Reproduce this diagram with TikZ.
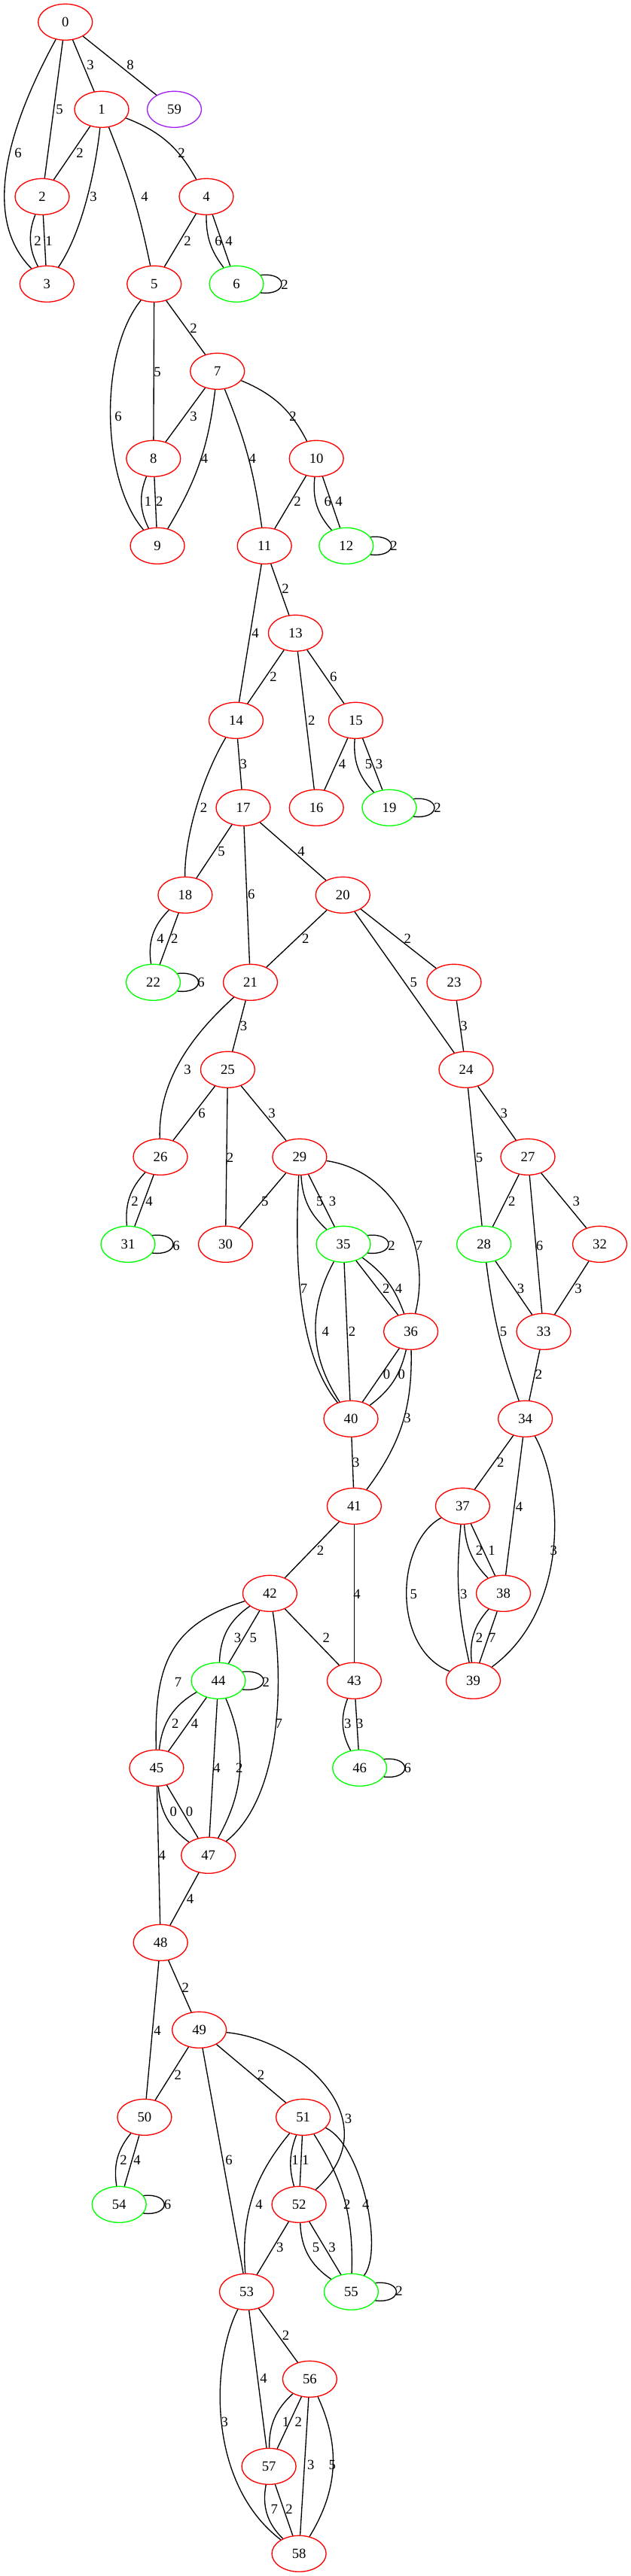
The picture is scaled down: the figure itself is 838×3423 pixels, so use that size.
\documentclass[tikz,border=0pt]{standalone}
\usepackage{fontspec}
\setmainfont{Liberation Serif}
\usetikzlibrary{shapes.geometric}
\definecolor{gvred}{HTML}{FF0000}
\definecolor{gvgreen}{HTML}{00FF00}
\definecolor{gvpurple}{HTML}{A020F0}
\begin{document}
\begin{tikzpicture}[x=0.75pt,y=-0.75pt,
  every node/.style={font=\fontsize{14pt}{16pt}\selectfont},
  vtx/.style={ellipse, draw=gvred, line width=1pt, minimum width=54pt, minimum height=36pt, inner sep=0pt},
  vg/.style={vtx, draw=gvgreen},
  vp/.style={vtx, draw=gvpurple},
  edg/.style={draw=black, line width=1pt},
  pair/.style={bend right=24},
  lbl/.style={inner sep=0pt}]
\useasboundingbox (0,0) rectangle (838,3423);
% nodes
\node[vtx] (n0) at (86.7,29.3) {0};
\node[vtx] (n1) at (135,145.3) {1};
\node[vp] (n59) at (231.5,145.3) {59};
\node[vtx] (n2) at (56,261.3) {2};
\node[vtx] (n4) at (274,261.3) {4};
\node[vtx] (n3) at (62.3,377.3) {3};
\node[vtx] (n5) at (204.7,377.3) {5};
\node[vg] (n6) at (314,377.3) {6};
\node[vtx] (n7) at (288.7,493.3) {7};
\node[vtx] (n8) at (203.8,609.3) {8};
\node[vtx] (n10) at (420.2,609.3) {10};
\node[vtx] (n9) at (209.1,725.3) {9};
\node[vtx] (n11) at (351.2,725.3) {11};
\node[vg] (n12) at (459.8,725.3) {12};
\node[vtx] (n13) at (392.4,841.3) {13};
\node[vtx] (n14) at (313.5,957.3) {14};
\node[vtx] (n15) at (472.4,957.3) {15};
\node[vtx] (n17) at (323,1073.3) {17};
\node[vtx] (n16) at (420.2,1073.3) {16};
\node[vg] (n19) at (517,1073.3) {19};
\node[vtx] (n18) at (245.9,1189.3) {18};
\node[vtx] (n20) at (455.3,1189.3) {20};
\node[vg] (n22) at (203.5,1305.3) {22};
\node[vtx] (n21) at (332.5,1305.3) {21};
\node[vtx] (n23) at (603,1305.3) {23};
\node[vtx] (n25) at (302.4,1421.3) {25};
\node[vtx] (n24) at (619,1421.3) {24};
\node[vtx] (n26) at (213,1537.3) {26};
\node[vtx] (n29) at (397.9,1537.3) {29};
\node[vtx] (n27) at (701,1537.3) {27};
\node[vg] (n31) at (170,1653.3) {31};
\node[vtx] (n30) at (299.5,1653.3) {30};
\node[vg] (n35) at (456,1653.3) {35};
\node[vg] (n28) at (642.6,1653.3) {28};
\node[vtx] (n32) at (796.5,1653.3) {32};
\node[vtx] (n36) at (545.6,1769.3) {36};
\node[vtx] (n33) at (722,1769.3) {33};
\node[vtx] (n40) at (466,1885.3) {40};
\node[vtx] (n34) at (697.6,1885.3) {34};
\node[vtx] (n41) at (470.4,2001.3) {41};
\node[vtx] (n37) at (614.4,2001.3) {37};
\node[vtx] (n42) at (358.4,2117.3) {42};
\node[vtx] (n38) at (668.5,2117.3) {38};
\node[vg] (n44) at (290,2233.3) {44};
\node[vtx] (n43) at (470.4,2233.3) {43};
\node[vtx] (n39) at (628.5,2233.3) {39};
\node[vtx] (n45) at (207.9,2349.3) {45};
\node[vg] (n46) at (477.7,2349.3) {46};
\node[vtx] (n47) at (276.7,2465.3) {47};
\node[vtx] (n48) at (213.2,2581.3) {48};
\node[vtx] (n49) at (264.6,2697.3) {49};
\node[vtx] (n50) at (191.9,2813.3) {50};
\node[vtx] (n51) at (402.6,2813.3) {51};
\node[vg] (n54) at (158.2,2929.3) {54};
\node[vtx] (n52) at (397.1,2929.3) {52};
\node[vtx] (n53) at (327.5,3045.3) {53};
\node[vg] (n55) at (466.4,3045.3) {55};
\node[vtx] (n56) at (411.4,3161.3) {56};
\node[vtx] (n57) at (357.1,3277.3) {57};
\node[vtx] (n58) at (397.1,3393.3) {58};
% loops
\foreach \n in {n6,n12,n19,n22,n31,n35,n44,n46,n54,n55}
  \draw[edg] (\n.20) .. controls +(37,-4) and +(37,4) .. (\n.-20);
% edges
\draw[edg] (n0) .. controls (10,170) and (-25,290) .. (n3);
\draw[edg] (n0) -- (n2);
\draw[edg] (n0) -- (n1);
\draw[edg] (n0) -- (n59);
\draw[edg] (n1) -- (n2);
\draw[edg] (n1) .. controls (130,200) and (115,300) .. (n3);
\draw[edg] (n1) to[bend left=5] (n5);
\draw[edg] (n1) to[bend left=20] (n4);
\draw[edg] (n2) to[pair] (n3);
\draw[edg] (n2) -- (n3);
\draw[edg] (n4) -- (n5);
\draw[edg] (n4) to[bend right=19] (n6);
\draw[edg] (n4) -- (n6);
\draw[edg] (n5) .. controls (130,470) and (135,640) .. (n9);
\draw[edg] (n5) -- (n8);
\draw[edg] (n5) -- (n7);
\draw[edg] (n7) -- (n8);
\draw[edg] (n7) to[bend left=12] (n9);
\draw[edg] (n7) to[bend left=7] (n11);
\draw[edg] (n7) to[bend left=20] (n10);
\draw[edg] (n8) to[pair] (n9);
\draw[edg] (n8) -- (n9);
\draw[edg] (n10) -- (n11);
\draw[edg] (n10) to[pair] (n12);
\draw[edg] (n10) -- (n12);
\draw[edg] (n11) -- (n13);
\draw[edg] (n11) -- (n14);
\draw[edg] (n13) -- (n14);
\draw[edg] (n13) -- (n16);
\draw[edg] (n13) -- (n15);
\draw[edg] (n14) .. controls (270,1030) and (245,1110) .. (n18);
\draw[edg] (n14) -- (n17);
\draw[edg] (n15) -- (n16);
\draw[edg] (n15) to[pair] (n19);
\draw[edg] (n15) -- (n19);
\draw[edg] (n17) -- (n18);
\draw[edg] (n17) -- (n21);
\draw[edg] (n17) -- (n20);
\draw[edg] (n18) to[bend right=27] (n22);
\draw[edg] (n18) -- (n22);
\draw[edg] (n20) -- (n21);
\draw[edg] (n20) -- (n24);
\draw[edg] (n20) -- (n23);
\draw[edg] (n23) -- (n24);
\draw[edg] (n21) -- (n25);
\draw[edg] (n21) .. controls (250,1380) and (210,1440) .. (n26);
\draw[edg] (n25) -- (n26);
\draw[edg] (n25) -- (n30);
\draw[edg] (n25) -- (n29);
\draw[edg] (n24) -- (n28);
\draw[edg] (n24) -- (n27);
\draw[edg] (n26) to[pair] (n31);
\draw[edg] (n26) -- (n31);
\draw[edg] (n29) -- (n30);
\draw[edg] (n29) .. controls (392,1660) and (392,1795) .. (n40);
\draw[edg] (n29) to[bend right=22] (n35);
\draw[edg] (n29) -- (n35);
\draw[edg] (n29) .. controls (520,1555) and (575,1650) .. (n36);
\draw[edg] (n27) -- (n28);
\draw[edg] (n27) -- (n33);
\draw[edg] (n27) -- (n32);
\draw[edg] (n35) to[bend right=31] (n40);
\draw[edg] (n35) -- (n40);
\draw[edg] (n35) -- (n36);
\draw[edg] (n35) to[bend left=17] (n36);
\draw[edg] (n28) to[bend right=6] (n34);
\draw[edg] (n28) -- (n33);
\draw[edg] (n32) -- (n33);
\draw[edg] (n36) -- (n40);
\draw[edg] (n36) to[bend left=20] (n40);
\draw[edg] (n36) to[bend left=19] (n41);
\draw[edg] (n33) -- (n34);
\draw[edg] (n40) -- (n41);
\draw[edg] (n34) -- (n37);
\draw[edg] (n34) -- (n38);
\draw[edg] (n34) .. controls (750,1980) and (755,2140) .. (n39);
\draw[edg] (n41) -- (n42);
\draw[edg] (n41) -- (n43);
\draw[edg] (n37) .. controls (525,2050) and (520,2190) .. (n39);
\draw[edg] (n37) to[bend right=9] (n39);
\draw[edg] (n37) to[bend right=20] (n38);
\draw[edg] (n37) -- (n38);
\draw[edg] (n38) to[pair] (n39);
\draw[edg] (n38) -- (n39);
\draw[edg] (n42) .. controls (220,2160) and (205,2220) .. (n45);
\draw[edg] (n42) to[bend right=27] (n44);
\draw[edg] (n42) -- (n44);
\draw[edg] (n42) .. controls (378,2240) and (372,2390) .. (n47);
\draw[edg] (n42) -- (n43);
\draw[edg] (n43) to[pair] (n46);
\draw[edg] (n43) -- (n46);
\draw[edg] (n44) to[bend right=27] (n45);
\draw[edg] (n44) -- (n45);
\draw[edg] (n44) -- (n47);
\draw[edg] (n44) to[bend left=26] (n47);
\draw[edg] (n45) to[bend right=25] (n47);
\draw[edg] (n45) -- (n47);
\draw[edg] (n45) -- (n48);
\draw[edg] (n47) -- (n48);
\draw[edg] (n48) -- (n49);
\draw[edg] (n48) -- (n50);
\draw[edg] (n49) -- (n50);
\draw[edg] (n49) -- (n53);
\draw[edg] (n49) -- (n51);
\draw[edg] (n49) .. controls (400,2710) and (520,2820) .. (n52);
\draw[edg] (n50) to[pair] (n54);
\draw[edg] (n50) -- (n54);
\draw[edg] (n51) to[bend right=22] (n53);
\draw[edg] (n51) to[bend right=18] (n52);
\draw[edg] (n51) -- (n52);
\draw[edg] (n51) to[bend left=17] (n55);
\draw[edg] (n51) .. controls (480,2850) and (510,2990) .. (n55);
\draw[edg] (n52) -- (n53);
\draw[edg] (n52) to[bend right=27] (n55);
\draw[edg] (n52) -- (n55);
\draw[edg] (n53) -- (n56);
\draw[edg] (n53) -- (n57);
\draw[edg] (n53) .. controls (280,3140) and (275,3300) .. (n58);
\draw[edg] (n56) to[pair] (n57);
\draw[edg] (n56) -- (n57);
\draw[edg] (n56) -- (n58);
\draw[edg] (n56) to[bend left=28] (n58);
\draw[edg] (n57) to[bend right=28] (n58);
\draw[edg] (n57) -- (n58);
% edge labels
\node[lbl] (a1) at (120,86.6) {3};
\node[lbl] (a2) at (173,86.6) {8};
\node[lbl] (a3) at (79,145) {5};
\node[lbl] (a4) at (24,203) {6};
\node[lbl] (a5) at (106,203) {2};
\node[lbl] (a6) at (241,203) {2};
\node[lbl] (a7) at (124,261) {3};
\node[lbl] (a8) at (192,261) {4};
\node[lbl] (a9) at (50,320) {2};
\node[lbl] (a10) at (65,320) {1};
\node[lbl] (a11) at (249,320) {2};
\node[lbl] (a12) at (290,320) {6};
\node[lbl] (a13) at (304,320) {4};
\node[lbl] (a14) at (378,378) {2};
\node[lbl] (a15) at (257,436) {2};
\node[lbl] (a16) at (209,494) {5};
\node[lbl] (a17) at (157,553) {6};
\node[lbl] (a18) at (257,553) {3};
\node[lbl] (a19) at (389,553) {2};
\node[lbl] (a20) at (271.6,609) {4};
\node[lbl] (a21) at (335.2,609) {4};
\node[lbl] (a22) at (196.6,666.5) {1};
\node[lbl] (a23) at (211.8,666.5) {2};
\node[lbl] (a24) at (395,666.5) {2};
\node[lbl] (a25) at (435.4,666.5) {6};
\node[lbl] (a26) at (450,666.5) {4};
\node[lbl] (a27) at (523,725) {2};
\node[lbl] (a28) at (379,782) {2};
\node[lbl] (a29) at (339,841) {4};
\node[lbl] (a30) at (363,899) {2};
\node[lbl] (a31) at (442.7,899) {6};
\node[lbl] (a32) at (413.7,957) {2};
\node[lbl] (a33) at (323.4,1015) {3};
\node[lbl] (a34) at (454.5,1015) {4};
\node[lbl] (a35) at (489.5,1015) {5};
\node[lbl] (a36) at (503.6,1015) {3};
\node[lbl] (a37) at (581,1073.4) {2};
\node[lbl] (a38) at (270.5,1073.4) {2};
\node[lbl] (a39) at (294,1131) {5};
\node[lbl] (a40) at (400,1131) {4};
\node[lbl] (a41) at (333.9,1188.3) {6};
\node[lbl] (a42) at (213,1247) {4};
\node[lbl] (a43) at (231.8,1247) {2};
\node[lbl] (a44) at (405.9,1247) {2};
\node[lbl] (a45) at (541.4,1247) {2};
\node[lbl] (a46) at (267,1305.8) {6};
\node[lbl] (a47) at (549.4,1305.8) {5};
\node[lbl] (a48) at (323.5,1363) {3};
\node[lbl] (a49) at (616,1363) {3};
\node[lbl] (a50) at (249,1421.4) {3};
\node[lbl] (a51) at (268,1479.4) {6};
\node[lbl] (a52) at (361,1479.4) {3};
\node[lbl] (a53) at (669.4,1479.4) {3};
\node[lbl] (a54) at (305.6,1538.5) {2};
\node[lbl] (a55) at (636.5,1538.5) {5};
\node[lbl] (a56) at (179,1596.5) {2};
\node[lbl] (a57) at (198,1596.5) {4};
\node[lbl] (a58) at (351.8,1596.5) {5};
\node[lbl] (a59) at (424.7,1596.5) {5};
\node[lbl] (a60) at (441.6,1596.5) {3};
\node[lbl] (a61) at (679.8,1596.5) {2};
\node[lbl] (a62) at (765.4,1596.5) {3};
\node[lbl] (a63) at (234,1654.9) {6};
\node[lbl] (a64) at (520,1654.9) {2};
\node[lbl] (a65) at (556.5,1654.9) {7};
\node[lbl] (a66) at (716.5,1654.9) {6};
\node[lbl] (a67) at (403.5,1712.5) {7};
\node[lbl] (a68) at (512.7,1712.5) {2};
\node[lbl] (a69) at (529.6,1712.5) {4};
\node[lbl] (a70) at (691.5,1712.5) {3};
\node[lbl] (a71) at (768,1712.5) {3};
\node[lbl] (a72) at (432.2,1769) {4};
\node[lbl] (a73) at (467.5,1769) {2};
\node[lbl] (a74) at (668.5,1769) {5};
\node[lbl] (a75) at (513.6,1826.4) {0};
\node[lbl] (a76) at (533.4,1826.4) {0};
\node[lbl] (a77) at (715.5,1826.4) {2};
\node[lbl] (a78) at (541,1884.8) {3};
\node[lbl] (a79) at (472.7,1943.5) {3};
\node[lbl] (a80) at (664.7,1943.5) {2};
\node[lbl] (a81) at (689.6,2001.9) {4};
\node[lbl] (a82) at (425.6,2059.9) {2};
\node[lbl] (a83) at (636.5,2059.9) {2};
\node[lbl] (a84) at (653,2059.9) {1};
\node[lbl] (a85) at (735.3,2059.9) {3};
\node[lbl] (a86) at (474,2118.2) {4};
\node[lbl] (a87) at (549.4,2118.2) {5};
\node[lbl] (a88) at (615.8,2118.2) {3};
\node[lbl] (a89) at (315.5,2176.6) {3};
\node[lbl] (a90) at (336.2,2176.6) {5};
\node[lbl] (a91) at (433.2,2176.6) {2};
\node[lbl] (a92) at (636.5,2176.6) {2};
\node[lbl] (a93) at (653.9,2176.6) {7};
\node[lbl] (a94) at (236.5,2235.3) {7};
\node[lbl] (a95) at (353.2,2235.3) {2};
\node[lbl] (a96) at (232.7,2290) {2};
\node[lbl] (a97) at (258.6,2290) {4};
\node[lbl] (a98) at (370.3,2290) {7};
\node[lbl] (a99) at (461.8,2290) {3};
\node[lbl] (a100) at (477.7,2290) {3};
\node[lbl] (a101) at (288,2349.2) {4};
\node[lbl] (a102) at (317.8,2349.2) {2};
\node[lbl] (a103) at (541.2,2349.2) {6};
\node[lbl] (a104) at (230.2,2407.3) {0};
\node[lbl] (a105) at (251.5,2407.3) {0};
\node[lbl] (a106) at (215.3,2465.8) {4};
\node[lbl] (a107) at (252.6,2523.8) {4};
\node[lbl] (a108) at (246.2,2640.8) {2};
\node[lbl] (a109) at (209,2698.5) {4};
\node[lbl] (a110) at (236.2,2757.3) {2};
\node[lbl] (a111) at (346.5,2757.3) {2};
\node[lbl] (a112) at (462.5,2815) {3};
\node[lbl] (a113) at (164,2870.5) {2};
\node[lbl] (a114) at (182,2870.5) {4};
\node[lbl] (a115) at (304,2870.5) {6};
\node[lbl] (a116) at (392,2870.5) {1};
\node[lbl] (a117) at (405.7,2870.5) {1};
\node[lbl] (a118) at (344,2929.2) {4};
\node[lbl] (a119) at (222.5,2929.2) {6};
\node[lbl] (a120) at (460.7,2929.2) {2};
\node[lbl] (a121) at (485.7,2929.2) {4};
\node[lbl] (a122) at (371.8,2986) {3};
\node[lbl] (a123) at (419.6,2986) {5};
\node[lbl] (a124) at (441,2986) {3};
\node[lbl] (a125) at (530,3044.5) {2};
\node[lbl] (a126) at (379.6,3102.8) {2};
\node[lbl] (a127) at (350,3160.4) {4};
\node[lbl] (a128) at (379.6,3218) {1};
\node[lbl] (a129) at (396.4,3218) {2};
\node[lbl] (a130) at (298.2,3218) {3};
\node[lbl] (a131) at (412.9,3275.7) {3};
\node[lbl] (a132) at (441.4,3275.7) {5};
\node[lbl] (a133) at (364.3,3334.4) {7};
\node[lbl] (a134) at (384,3334.4) {2};
\end{tikzpicture}
\end{document}
